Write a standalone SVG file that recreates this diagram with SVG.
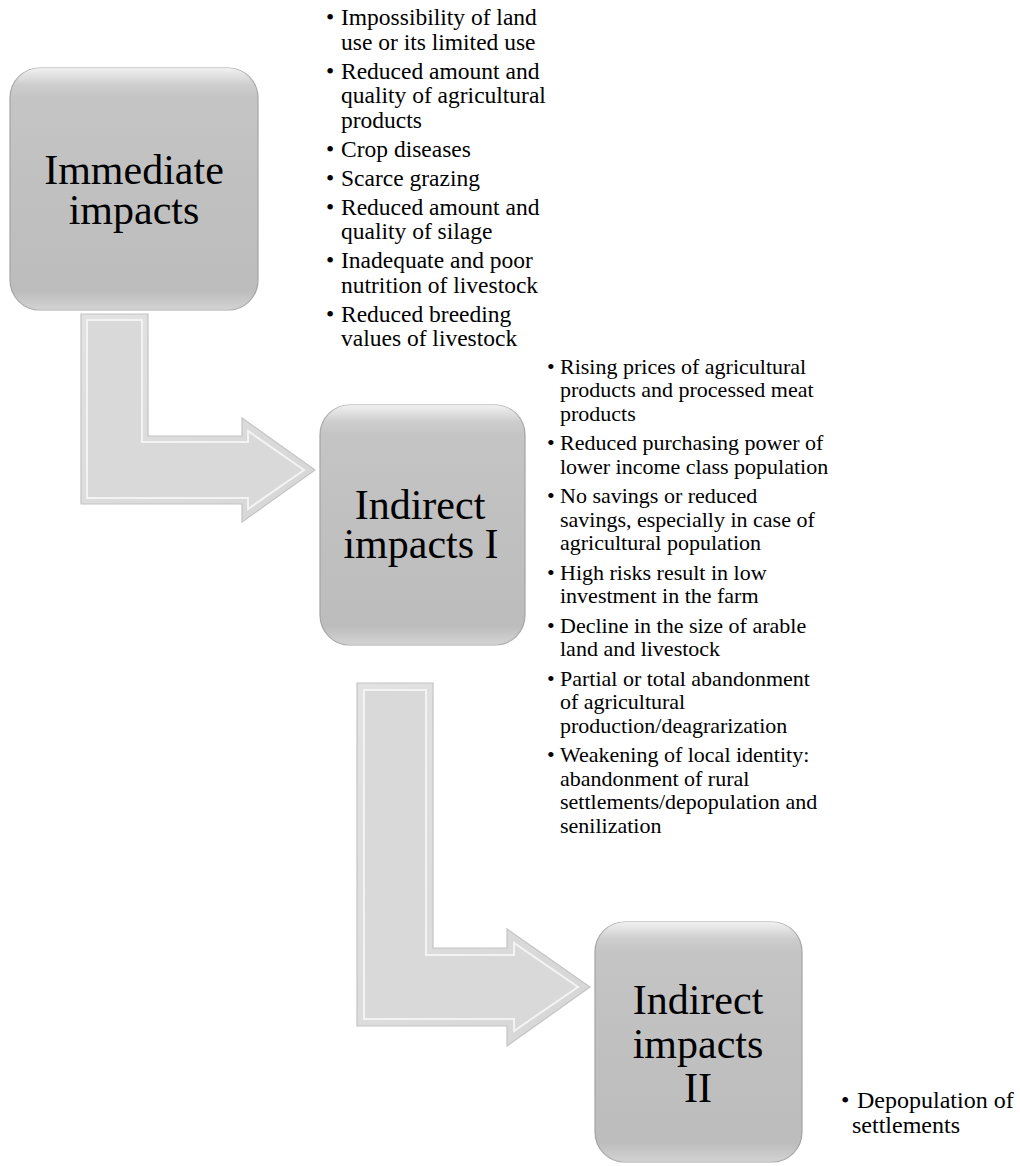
<svg xmlns="http://www.w3.org/2000/svg" width="1020" height="1166" viewBox="0 0 1020 1166">
  <defs>
    <linearGradient id="boxFill" x1="0" y1="0" x2="0" y2="1">
      <stop offset="0" stop-color="#c6c6c6"/>
      <stop offset="0.5" stop-color="#c0c0c0"/>
      <stop offset="1" stop-color="#bcbcbc"/>
    </linearGradient>
    <linearGradient id="boxShine" x1="0" y1="0" x2="0" y2="1">
      <stop offset="0" stop-color="#ffffff" stop-opacity="0.75"/>
      <stop offset="0.07" stop-color="#ffffff" stop-opacity="0.15"/>
      <stop offset="0.12" stop-color="#ffffff" stop-opacity="0"/>
      <stop offset="0.92" stop-color="#ffffff" stop-opacity="0"/>
      <stop offset="1" stop-color="#ffffff" stop-opacity="0.35"/>
    </linearGradient>
    <linearGradient id="arrowFill" x1="0" y1="0" x2="1" y2="1">
      <stop offset="0" stop-color="#e2e2e2"/>
      <stop offset="1" stop-color="#d6d6d6"/>
    </linearGradient>
  </defs>
  <style>
    .box { fill: url(#boxFill); stroke: #a4a4a4; stroke-width: 1.2; }
    .shine { fill: url(#boxShine); stroke: none; }
    .title { font-family: "Liberation Serif", "Times New Roman", serif; font-size: 42px; fill: #000; text-anchor: middle; }
    .l1 { font-family: "Liberation Serif", "Times New Roman", serif; font-size: 23.5px; fill: #000; }
    .l2 { font-family: "Liberation Serif", "Times New Roman", serif; font-size: 22px; fill: #000; }
    .l3 { font-family: "Liberation Serif", "Times New Roman", serif; font-size: 24px; fill: #000; }
    .arrowOuter { fill: url(#arrowFill); stroke: #c4c4c4; stroke-width: 1.2; }
    .arrowInner { fill: #d9d9d9; stroke: #f3f3f3; stroke-width: 2; }
  </style>
  <rect width="1020" height="1166" fill="#ffffff"/>

  <g id="connectors">
    <g id="arrow1">
      <polygon class="arrowOuter" points="81,314 148,314 148,436 242,436 242,418 315,470 242,522 242,504 81,504"/>
      <polygon class="arrowInner" points="87,320 142,320 142,442 248,442 248,431 304,470 248,509 248,498 87,498"/>
    </g>
    <g id="arrow2">
      <polygon class="arrowOuter" points="357,683 433,683 433,948 507,948 507,929 590,987 507,1046 507,1026 357,1026"/>
      <polygon class="arrowInner" points="364,690 426,690 426,955 514,955 514,943 578,987 514,1031 514,1019 364,1019"/>
    </g>
  </g>

  <g id="node-immediate">
    <rect class="box" x="10" y="68" width="248" height="242" rx="30" ry="30"/>
    <rect class="shine" x="10" y="68" width="248" height="242" rx="30" ry="30"/>
    <text class="title"><tspan x="134" y="184">Immediate</tspan><tspan x="134" y="224">impacts</tspan></text>
  </g>
  <g id="list-immediate">
    <text class="l1" x="326" y="25">•</text><text class="l1"><tspan x="341" y="25">Impossibility of land</tspan><tspan x="341" y="49.5">use or its limited use</tspan></text>
    <text class="l1" x="326" y="78.5">•</text><text class="l1"><tspan x="341" y="78.5">Reduced amount and</tspan><tspan x="341" y="103">quality of agricultural</tspan><tspan x="341" y="127.5">products</tspan></text>
    <text class="l1" x="326" y="156.5">•</text><text class="l1" x="341" y="156.5">Crop diseases</text>
    <text class="l1" x="326" y="185.5">•</text><text class="l1" x="341" y="185.5">Scarce grazing</text>
    <text class="l1" x="326" y="214.5">•</text><text class="l1"><tspan x="341" y="214.5">Reduced amount and</tspan><tspan x="341" y="239">quality of silage</tspan></text>
    <text class="l1" x="326" y="268">•</text><text class="l1"><tspan x="341" y="268">Inadequate and poor</tspan><tspan x="341" y="292.5">nutrition of livestock</tspan></text>
    <text class="l1" x="326" y="321.5">•</text><text class="l1"><tspan x="341" y="321.5">Reduced breeding</tspan><tspan x="341" y="346">values of livestock</tspan></text>
  </g>

  <g id="node-indirect1">
    <rect class="box" x="320" y="405" width="205" height="240" rx="30" ry="30"/>
    <rect class="shine" x="320" y="405" width="205" height="240" rx="30" ry="30"/>
    <text class="title"><tspan x="420" y="519">Indirect</tspan><tspan x="421" y="558">impacts I</tspan></text>
  </g>
  <g id="list-indirect1">
    <text class="l2" x="547" y="373.5">•</text><text class="l2"><tspan x="560" y="373.5">Rising prices of agricultural</tspan><tspan x="560" y="397">products and processed meat</tspan><tspan x="560" y="420.5">products</tspan></text>
    <text class="l2" x="547" y="450">•</text><text class="l2"><tspan x="560" y="450">Reduced purchasing power of</tspan><tspan x="560" y="473.5">lower income class population</tspan></text>
    <text class="l2" x="547" y="503">•</text><text class="l2"><tspan x="560" y="503">No savings or reduced</tspan><tspan x="560" y="526.5">savings, especially in case of</tspan><tspan x="560" y="550">agricultural population</tspan></text>
    <text class="l2" x="547" y="579.5">•</text><text class="l2"><tspan x="560" y="579.5">High risks result in low</tspan><tspan x="560" y="603">investment in the farm</tspan></text>
    <text class="l2" x="547" y="632.5">•</text><text class="l2"><tspan x="560" y="632.5">Decline in the size of arable</tspan><tspan x="560" y="656">land and livestock</tspan></text>
    <text class="l2" x="547" y="685.5">•</text><text class="l2"><tspan x="560" y="685.5">Partial or total abandonment</tspan><tspan x="560" y="709">of agricultural</tspan><tspan x="560" y="732.5">production/deagrarization</tspan></text>
    <text class="l2" x="547" y="762">•</text><text class="l2"><tspan x="560" y="762">Weakening of local identity:</tspan><tspan x="560" y="785.5">abandonment of rural</tspan><tspan x="560" y="809">settlements/depopulation and</tspan><tspan x="560" y="832.5">senilization</tspan></text>
  </g>

  <g id="node-indirect2">
    <rect class="box" x="595" y="922" width="207" height="240" rx="30" ry="30"/>
    <rect class="shine" x="595" y="922" width="207" height="240" rx="30" ry="30"/>
    <text class="title"><tspan x="698" y="1014">Indirect</tspan><tspan x="698" y="1058">impacts</tspan><tspan x="698" y="1102">II</tspan></text>
  </g>
  <g id="list-indirect2">
    <text class="l3" x="841" y="1108">•</text><text class="l3"><tspan x="857" y="1108">Depopulation of</tspan><tspan x="852" y="1133">settlements</tspan></text>
  </g>
</svg>
